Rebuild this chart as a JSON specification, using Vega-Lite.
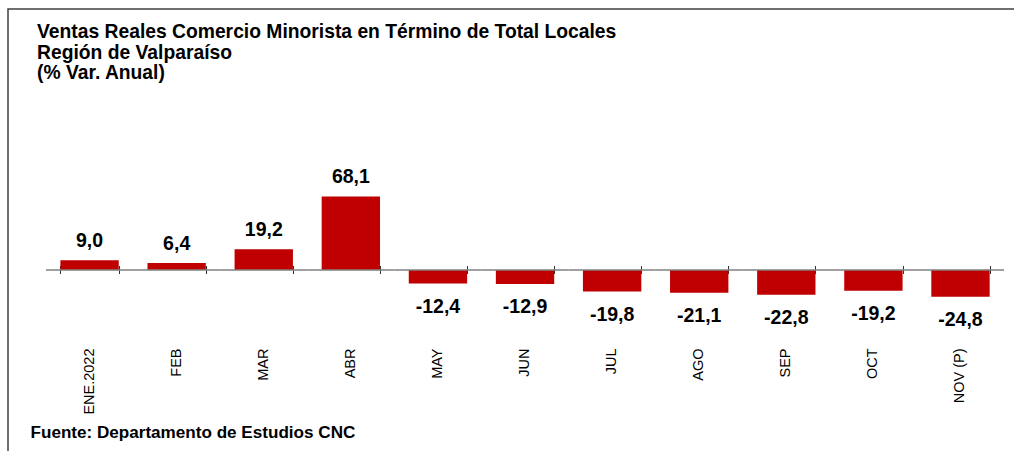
{
  "$schema": "https://vega.github.io/schema/vega-lite/v6.json",
  "width": 1008,
  "height": 444,
  "autosize": "none",
  "padding": {"left": 8, "top": 9, "right": -2, "bottom": -2},
  "background": "white",
  "title": {
    "text": ["Ventas Reales Comercio Minorista en Término de Total Locales", "Región de Valparaíso", "(% Var. Anual)"],
    "anchor": "start",
    "frame": "group",
    "orient": "top",
    "offset": -74.5,
    "dx": 29,
    "font": "Liberation Sans",
    "fontSize": 19.3,
    "fontWeight": "bold",
    "lineHeight": 20.5,
    "color": "black"
  },
  "data": {
    "values": [
      {"mes": "ENE.2022", "v": 9.0},
      {"mes": "FEB", "v": 6.4},
      {"mes": "MAR", "v": 19.2},
      {"mes": "ABR", "v": 68.1},
      {"mes": "MAY", "v": -12.4},
      {"mes": "JUN", "v": -12.9},
      {"mes": "JUL", "v": -19.8},
      {"mes": "AGO", "v": -21.1},
      {"mes": "SEP", "v": -22.8},
      {"mes": "OCT", "v": -19.2},
      {"mes": "NOV (P)", "v": -24.8}
    ]
  },
  "layer": [
    {
      "mark": {"type": "bar", "color": "#C00000"},
      "encoding": {
        "x": {
          "field": "mes", "type": "nominal", "sort": null,
          "scale": {"paddingInner": 0.33, "paddingOuter": 0.452, "align": 0.6655},
          "axis": {
            "orient": "bottom", "offset": -111, "domain": false, "ticks": false, "tickSize": 0,
            "labelAngle": -90, "labelPadding": 6, "labelFont": "Liberation Sans", "labelFontSize": 14.5,
            "labelColor": "black",
            "title": "Fuente: Departamento de Estudios CNC",
            "titleFont": "Liberation Sans", "titleFontSize": 17.1, "titleFontWeight": "bold", "titleColor": "black",
            "titleAnchor": "start", "titleAlign": "left", "titleAngle": 0, "titleBaseline": "alphabetic",
            "titleX": 22, "titleY": 95
          }
        },
        "y": {
          "field": "v", "type": "quantitative",
          "scale": {"domain": [-169.44, 241.67], "nice": false, "zero": false},
          "axis": null
        }
      }
    },
    {
      "mark": {"type": "rule", "color": "#808080", "strokeWidth": 1.5},
      "encoding": {
        "x": {
          "field": "mes", "type": "nominal", "sort": null, "bandPosition": -0.2463,
          "axis": {
            "orient": "bottom", "offset": -187.5, "domain": false, "ticks": true, "tickBand": "extent",
            "tickSize": 8, "tickColor": "#333333", "tickWidth": 1, "labels": false, "title": null
          }
        },
        "x2": {"field": "mes", "bandPosition": 1.2463},
        "y": {"datum": 0, "type": "quantitative"}
      }
    },
    {
      "transform": [{"filter": "datum.v >= 0"}],
      "mark": {"type": "text", "font": "Liberation Sans", "fontSize": 19.5, "fontWeight": "bold", "color": "black", "baseline": "alphabetic", "dy": -13},
      "encoding": {
        "x": {"field": "mes", "type": "nominal", "sort": null, "axis": null},
        "y": {"field": "v", "type": "quantitative"},
        "text": {"field": "v", "type": "quantitative", "format": ".1f"}
      }
    },
    {
      "transform": [{"filter": "datum.v < 0"}],
      "mark": {"type": "text", "font": "Liberation Sans", "fontSize": 19.5, "fontWeight": "bold", "color": "black", "baseline": "alphabetic", "dy": 29.5},
      "encoding": {
        "x": {"field": "mes", "type": "nominal", "sort": null, "axis": null},
        "y": {"field": "v", "type": "quantitative"},
        "text": {"field": "v", "type": "quantitative", "format": ".1f"}
      }
    }
  ],
  "resolve": {"axis": {"x": "independent"}},
  "config": {
    "locale": {"number": {"decimal": ",", "thousands": ".", "grouping": [3], "currency": ["$", ""], "minus": "-"}},
    "view": {"stroke": "#404040", "strokeWidth": 1.5}
  }
}
